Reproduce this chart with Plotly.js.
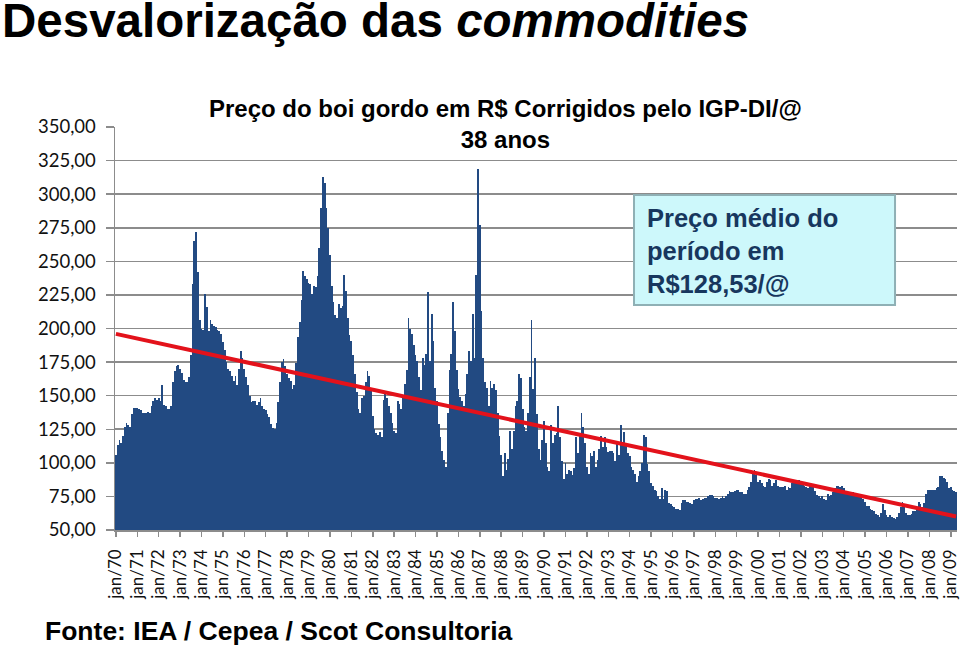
<!DOCTYPE html>
<html>
<head>
<meta charset="utf-8">
<script src="https://cdn.plot.ly/plotly-3.0.1.min.js"></script>
<style>
  body { margin: 0; background: #fff; }
  #myDiv { width: 960px; height: 647px; }
</style>
</head>
<body>
<div id="myDiv"></div>
<script>
// preço mensal do boi gordo, R$/@ corrigidos pelo IGP-DI
var p1970s = [
  106,113,117,115,120,127,130,128,127,136,141,141,
  141,140,139,137,137,137,138,137,142,146,148,147,
  148,146,158,143,142,140,140,142,160,168,172,173,
  170,167,162,160,160,164,180,233,265,272,242,206,
  200,199,226,216,198,206,203,202,201,199,198,196,
  190,184,175,170,168,165,161,165,158,170,183,178,
  170,164,158,150,145,146,146,143,145,148,142,140,
  139,136,134,129,126,125,130,145,160,175,177,172,
  166,163,161,155,158,174,194,205,221,243,239,237,
  234,233,226,232,231,239,260,290,313,308,290,275
];
var p1980s = [
  255,232,220,210,208,218,215,217,240,228,208,195,
  191,180,166,153,140,137,148,150,160,168,165,155,
  135,125,122,121,123,119,147,151,148,142,137,130,
  124,122,146,144,140,150,159,169,208,200,196,188,
  180,176,164,154,178,173,181,227,176,211,191,156,
  146,129,119,109,102,97,137,169,181,220,198,169,
  155,149,146,142,151,166,183,176,211,178,240,319,
  277,213,178,160,156,142,161,156,159,154,137,120,
  106,90,107,95,103,124,110,124,142,146,166,163,
  140,127,124,137,164,206,155,178,136,110,102,117
];
var p1990s = [
  131,115,97,94,128,115,121,122,142,119,101,88,
  100,92,95,94,91,96,119,107,120,137,127,115,
  97,92,107,105,109,97,102,110,120,112,119,112,
  108,109,109,107,101,115,106,128,115,123,113,107,
  105,97,95,92,86,90,94,100,121,119,99,94,
  85,83,80,79,75,73,81,73,80,79,70,69,
  68,67,66,66,65,70,72,72,71,71,70,69,
  72,73,73,74,72,73,74,74,75,76,76,75,
  74,74,73,74,75,74,75,77,79,78,78,79,
  80,80,78,78,77,77,80,82,86,92,95,91
];
var p2000s = [
  86,87,85,83,82,86,88,87,83,85,87,83,
  82,82,82,83,80,82,81,85,86,87,85,87,
  85,86,83,82,81,83,84,84,79,76,75,74,
  75,73,72,77,75,76,78,81,83,83,82,83,
  81,78,78,78,78,78,77,76,75,75,76,73,
  71,68,68,66,65,64,62,61,60,63,69,65,
  61,60,61,60,59,58,60,63,67,71,67,63,
  61,61,62,64,64,66,71,69,67,70,77,80,
  80,80,80,80,81,82,90,90,89,88,86,81,
  82,80,79,78
];

var meses = ['jan','fev','mar','abr','mai','jun','jul','ago','set','out','nov','dez'];
var anos = ['70','71','72','73','74','75','76','77','78','79',
            '80','81','82','83','84','85','86','87','88','89',
            '90','91','92','93','94','95','96','97','98','99',
            '00','01','02','03','04','05','06','07','08','09'];
var tickLabels = ['jan/70','jan/71','jan/72','jan/73','jan/74','jan/75','jan/76','jan/77',
                  'jan/78','jan/79','jan/80','jan/81','jan/82','jan/83','jan/84','jan/85',
                  'jan/86','jan/87','jan/88','jan/89','jan/90','jan/91','jan/92','jan/93',
                  'jan/94','jan/95','jan/96','jan/97','jan/98','jan/99','jan/00','jan/01',
                  'jan/02','jan/03','jan/04','jan/05','jan/06','jan/07','jan/08','jan/09'];
// linha de tendência: valor no início e no fim do período
var tendencia = [196, 60];

function desenha() {
  var precos = p1970s.concat(p1980s, p1990s, p2000s);
  var meses_x = [];
  for (var i = 0; i < precos.length; i++) {
    meses_x.push(meses[i % 12] + '/' + anos[Math.floor(i / 12)]);
  }

  var barras = {
    x: meses_x,
    y: precos,
    type: 'bar',
    marker: {color: '#224a82', line: {width: 0}},
    hoverinfo: 'x+y'
  };
  var linha = {
    x: [meses_x[0], meses_x[meses_x.length - 1]],
    y: tendencia,
    type: 'scatter',
    mode: 'lines',
    line: {color: '#e3121b', width: 4},
    hoverinfo: 'skip'
  };

  var cinza = '#8c8c8c';
  var layout = {
    width: 960,
    height: 647,
    margin: {l: 115, r: 3, t: 127, b: 117},
    paper_bgcolor: '#fff',
    plot_bgcolor: '#fff',
    showlegend: false,
    bargap: 0,
    separators: ',.',
    font: {family: 'Liberation Sans, Arial, sans-serif', color: '#000'},
    xaxis: {
      type: 'category',
      range: [-0.5, precos.length - 0.5],
      tickmode: 'array',
      tickvals: tickLabels,
      ticktext: tickLabels,
      tickangle: -90,
      ticks: 'outside',
      ticklen: 5,
      tickwidth: 1.5,
      tickcolor: cinza,
      showline: true,
      linecolor: cinza,
      linewidth: 1.5,
      showgrid: false,
      ticklabelstandoff: 6,
      tickfont: {family: 'Lato, Open Sans, sans-serif', size: 17, color: '#111'}
    },
    yaxis: {
      range: [50, 350],
      tick0: 50,
      dtick: 25,
      tickformat: '.2f',
      ticks: 'outside',
      ticklen: 8,
      tickwidth: 1.5,
      tickcolor: cinza,
      showline: true,
      linecolor: cinza,
      linewidth: 1.5,
      gridcolor: cinza,
      gridwidth: 1.6,
      zeroline: false,
      ticklabelstandoff: 6,
      tickfont: {family: 'Lato, Open Sans, sans-serif', size: 18.5, color: '#111'}
    },
    shapes: [{
      type: 'rect', xref: 'paper', yref: 'paper', layer: 'above',
      x0: 0.6164, x1: 0.9264, y0: 0.5583, y1: 0.8313,
      fillcolor: '#cdf8fb',
      line: {color: '#8fb0b5', width: 2}
    }],
    annotations: [
      {
        text: '<b>Desvalorização das <i>commodities</i></b>',
        xref: 'paper', yref: 'paper', x: -0.1366, y: 1.2655,
        xanchor: 'left', yanchor: 'middle', showarrow: false,
        font: {size: 47.5, color: '#000'}
      },
      {
        text: '<b>Preço do boi gordo em R$ Corrigidos pelo IGP-DI/@<br>38 anos</b>',
        xref: 'paper', yref: 'paper', x: 0.4632, y: 1.0074,
        xanchor: 'center', yanchor: 'middle', showarrow: false,
        font: {size: 24, color: '#000'}
      },
      {
        text: '<b>Preço médio do<br>período em<br>R$128,53/@</b>',
        xref: 'paper', yref: 'paper', x: 0.6294, y: 0.693,
        xanchor: 'left', yanchor: 'middle', align: 'left', showarrow: false,
        font: {size: 25.5, color: '#17375e'}
      },
      {
        text: '<b>Fonte: IEA / Cepea / Scot Consultoria</b>',
        xref: 'paper', yref: 'paper', x: -0.0855, y: -0.2506,
        xanchor: 'left', yanchor: 'middle', showarrow: false,
        font: {size: 26.5, color: '#000'}
      }
    ]
  };

  Plotly.newPlot('myDiv', [barras, linha], layout, {displayModeBar: false, staticPlot: true});
}

desenha();
</script>
</body>
</html>
